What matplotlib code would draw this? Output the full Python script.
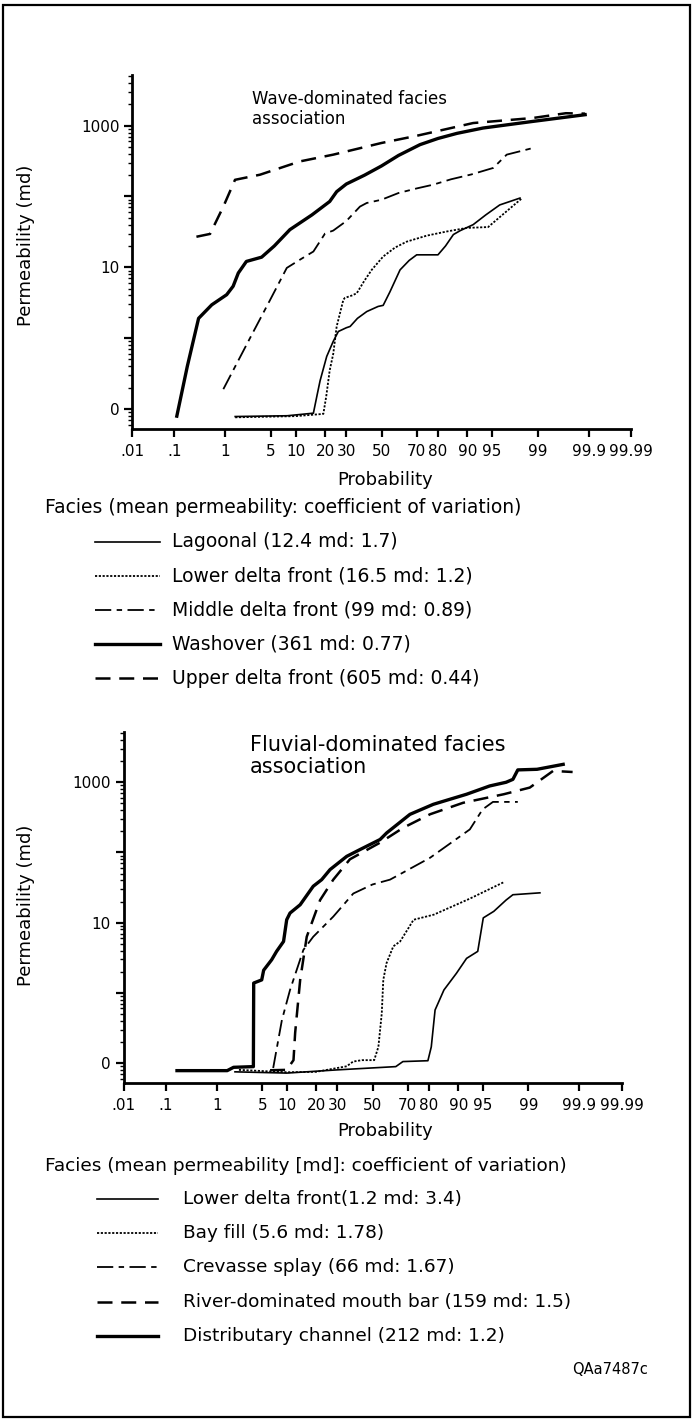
"""
Probability plots of permeability by facies: wave- and fluvial-dominated
facies associations.
"""
from statistics import NormalDist

import matplotlib
matplotlib.use("Agg")
import matplotlib.pyplot as plt
import matplotlib.ticker as ticker
from matplotlib.lines import Line2D
from matplotlib.patches import Rectangle
import numpy as np

W, H = 696, 1420

# ---------------- data (probability %, permeability md) ----------------
# Wave-dominated facies association
lagoonal_p = [1.46, 8, 15.5, 16.9, 18.0, 20.7, 23.6, 26, 30, 32, 36, 41.3, 48, 51, 55,
              60.9, 66, 70, 80, 83, 85.8, 88, 91.4, 94, 96.1, 98.05]
lagoonal_k = [0.078, 0.080, 0.087, 0.16, 0.25, 0.55, 0.9, 1.24, 1.4, 1.46, 1.9, 2.37, 2.8,
              2.9, 4.5, 9.2, 12.5, 15, 15, 20, 29, 33, 40, 55, 76, 95]

lower_wave_p = [1.46, 10, 19.3, 20.5, 22, 23.6, 25.2, 28.5, 29.3, 33, 35.6, 40, 44.2, 51,
                58, 64.6, 75, 83.4, 89.8, 94.4, 96.9, 98.2]
lower_wave_k = [0.076, 0.079, 0.085, 0.15, 0.35, 0.6, 1.46, 3.5, 3.7, 4.0, 4.3, 6.5, 9.2,
                14.2, 19, 23, 28, 32, 36, 37, 62, 95]

middle_p = [0.92, 2.5, 4.8, 7.9, 11.2, 15.5, 20, 23.6, 30, 37.4, 41.3, 50, 60, 70, 78,
            85, 91, 95.2, 96.9, 98.8]
middle_k = [0.19, 1.0, 3.4, 9.8, 12.8, 16.7, 30, 33, 45, 72, 81, 90, 112, 130, 147, 175,
            205, 253, 390, 484]

washover_p = [0.114, 0.19, 0.32, 0.57, 1.05, 1.35, 1.64, 2.2, 3.7, 5.5, 8.6, 15, 22, 25.2,
              30, 40, 50, 60, 71.7, 80, 87, 93.5, 98.8, 99.88]
washover_k = [0.079, 0.4, 1.9, 2.95, 4.1, 5.4, 8.3, 12.1, 13.9, 20, 34, 55, 85, 117, 150,
              200, 270, 380, 540, 660, 780, 927, 1150, 1430]

upper_p = [0.29, 0.53, 0.92, 1.45, 3.5, 11.2, 23.6, 50, 70, 91.4, 98.8, 99.7, 99.88]
upper_k = [27, 29.6, 72, 172, 203, 313, 390, 570, 720, 1090, 1285, 1500, 1480]

# Fluvial-dominated facies association
lower_fluv_p = [2, 10, 30, 63.6, 67.5, 79.6, 81, 82.5, 85.7, 89.5, 92, 94.2, 95.1, 96.5,
                97.7, 98.2, 99.38]
lower_fluv_k = [0.075, 0.072, 0.08, 0.089, 0.105, 0.108, 0.17, 0.57, 1.1, 1.9, 3.1, 3.9,
                11.7, 14.5, 21, 25, 26.6]

bayfill_p = [2.3, 10, 20, 35, 38.6, 43.7, 51, 53.5, 55.5, 56.4, 58.3, 62.2, 66, 70, 73,
             82, 90.4, 92.7, 97.5]
bayfill_k = [0.08, 0.074, 0.075, 0.09, 0.105, 0.11, 0.11, 0.17, 0.51, 1.53, 2.65, 4.6,
             5.4, 8, 11, 13, 19, 22, 37.7]

crevasse_p = [6.9, 8.8, 10.9, 15.1, 18.8, 27.9, 38.7, 50, 60.3, 64, 80.5, 92.7, 95, 96.4,
              98.5]
crevasse_k = [0.085, 0.41, 1.1, 4.1, 6.3, 12.2, 26, 35, 41, 46, 84, 213, 411, 525, 525]

mouthbar_p = [6.3, 10, 11.9, 12.4, 14, 16.3, 21.7, 27.9, 36.8, 54.5, 67.7, 80.5, 91.2,
              97.5, 99.06, 99.65, 99.86]
mouthbar_k = [0.079, 0.08, 0.11, 0.27, 1.53, 6.3, 21, 41, 80, 138, 225, 350, 510, 675,
              840, 1450, 1400]

distrib_p = [0.175, 1.5, 1.9, 3.76, 3.8, 4.9, 5.2, 6.6, 7.6, 9.2, 10, 10.9, 14, 18.8,
             22.4, 26.3, 35, 42.6, 54.5, 58.4, 71.2, 81.8, 87.6, 92, 96, 97.7, 98.2,
             98.5, 99.3, 99.78]
distrib_k = [0.078, 0.078, 0.087, 0.089, 1.38, 1.53, 2.1, 2.96, 3.9, 5.4, 11, 13.7, 18,
             33, 41, 57, 88, 110, 153, 190, 349, 485, 572, 675, 886, 1000, 1100, 1500,
             1530, 1800]

prob_ticks = [0.01, 0.1, 1, 5, 10, 20, 30, 50, 70, 80, 90, 95, 99, 99.9, 99.99]
prob_labels = [".01", ".1", "1", "5", "10", "20", "30", "50", "70", "80", "90", "95",
               "99", "99.9", "99.99"]
perm_labels = {0.1: "0", 10: "10", 1000: "1000"}

wave_legend = ["Lagoonal (12.4 md: 1.7)", "Lower delta front (16.5 md: 1.2)",
               "Middle delta front (99 md: 0.89)", "Washover (361 md: 0.77)",
               "Upper delta front (605 md: 0.44)"]
fluv_legend = ["Lower delta front(1.2 md: 3.4)", "Bay fill (5.6 md: 1.78)",
               "Crevasse splay (66 md: 1.67)", "River-dominated mouth bar (159 md: 1.5)",
               "Distributary channel (212 md: 1.2)"]

# ---------------- styles ----------------
THIN = dict(color="black", lw=1.2, ls="-")
DOT = dict(color="black", lw=1.3, ls=(0, (1.2, 0.9)))
DASHDOT = dict(color="black", lw=1.3, ls=(0, (9, 3, 3, 3)))
THICK = dict(color="black", lw=2.4, ls="-")
DASH = dict(color="black", lw=1.8, ls=(0, (6, 3.5)))

_nd = NormalDist()


def prob_fwd(p):
    p = np.clip(np.asarray(p, dtype=float) / 100.0, 1e-9, 1 - 1e-9)
    return np.vectorize(_nd.inv_cdf, otypes=[float])(p)


def prob_inv(z):
    return 100.0 * np.vectorize(_nd.cdf, otypes=[float])(np.asarray(z, dtype=float))


def px(x, y):
    return x / W, 1 - y / H


def setup_axes(ax):
    ax.set_xscale("function", functions=(prob_fwd, prob_inv))
    ax.set_yscale("log")
    ax.set_xlim(0.01, 99.99)
    ax.set_ylim(0.052, 5200)
    ax.xaxis.set_major_locator(ticker.FixedLocator(prob_ticks))
    ax.xaxis.set_major_formatter(ticker.FixedFormatter(prob_labels))
    ax.xaxis.set_minor_locator(ticker.NullLocator())
    ax.yaxis.set_major_locator(ticker.LogLocator(base=10, numticks=10))
    ax.yaxis.set_minor_locator(ticker.LogLocator(base=10, subs=np.arange(2, 10), numticks=20))
    ax.yaxis.set_major_formatter(ticker.FuncFormatter(
        lambda v, pos: next((s for k, s in perm_labels.items() if abs(v - k) < k * 1e-6), "")))
    ax.yaxis.set_minor_formatter(ticker.NullFormatter())
    for side in ("top", "right"):
        ax.spines[side].set_visible(False)
    for side in ("left", "bottom"):
        ax.spines[side].set_linewidth(2.0)
    ax.tick_params(axis="both", which="major", length=6, width=1.6, labelsize=11, pad=3)
    ax.tick_params(axis="x", which="major", pad=5)
    ax.tick_params(axis="y", which="minor", length=3, width=1.0)
    ax.patch.set_alpha(0)


def draw_legend(fig, header, header_y, header_size, labels, styles, row0, x_line, x_text,
                size):
    fig.text(*px(45, header_y), header, fontsize=header_size, va="center", ha="left")
    for i, (lab, st) in enumerate(zip(labels, styles)):
        y = row0 + i * 34.2
        x0, yy = px(x_line[0], y)
        x1, _ = px(x_line[1], y)
        fig.add_artist(Line2D([x0, x1], [yy, yy], transform=fig.transFigure, **st))
        fig.text(*px(x_text, y), lab, fontsize=size, va="center", ha="left")


fig = plt.figure(figsize=(W / 100, H / 100), dpi=100)
fig.add_artist(Rectangle(px(3, 1417), (690 - 3) / W, (1417 - 5) / H,
                         transform=fig.transFigure, fill=False, lw=1.6, ec="black"))

# ---------------- wave-dominated ----------------
ax1 = fig.add_axes([132 / W, 1 - 429 / H, (631 - 132) / W, (429 - 75) / H])
setup_axes(ax1)
ax1.plot(lagoonal_p, lagoonal_k, **THIN)
ax1.plot(lower_wave_p, lower_wave_k, **DOT)
ax1.plot(middle_p, middle_k, **DASHDOT)
ax1.plot(washover_p, washover_k, **THICK)
ax1.plot(upper_p, upper_k, **DASH)
ax1.text(0.24, 0.905, "Wave-dominated facies\nassociation", transform=ax1.transAxes,
         fontsize=12, ha="left", va="center", linespacing=1.15)
ax1.set_xlabel("Probability", fontsize=13)
ax1.xaxis.set_label_coords(0.507, -0.12)
ax1.set_ylabel("Permeability (md)", fontsize=13)
ax1.yaxis.set_label_coords(-0.194, 0.52)

draw_legend(fig, "Facies (mean permeability: coefficient of variation)", 507, 13.5,
            wave_legend, [THIN, DOT, DASHDOT, THICK, DASH], 541.5, (95, 160), 172, 13.5)

# ---------------- fluvial-dominated ----------------
ax2 = fig.add_axes([123.5 / W, 1 - 1083 / H, (621.5 - 123.5) / W, (1083 - 732) / H])
setup_axes(ax2)
ax2.plot(lower_fluv_p, lower_fluv_k, **THIN)
ax2.plot(bayfill_p, bayfill_k, **DOT)
ax2.plot(crevasse_p, crevasse_k, **DASHDOT)
ax2.plot(mouthbar_p, mouthbar_k, **DASH)
ax2.plot(distrib_p, distrib_k, **THICK)
ax2.text(0.254, 0.932, "Fluvial-dominated facies\nassociation", transform=ax2.transAxes,
         fontsize=15, ha="left", va="center", linespacing=1.1)
ax2.set_xlabel("Probability", fontsize=13)
ax2.xaxis.set_label_coords(0.525, -0.11)
ax2.set_ylabel("Permeability (md)", fontsize=13)
ax2.yaxis.set_label_coords(-0.178, 0.507)

draw_legend(fig, "Facies (mean permeability [md]: coefficient of variation)", 1166, 13.3,
            fluv_legend, [THIN, DOT, DASHDOT, DASH, THICK], 1199, (97, 158), 183, 13.3)

fig.text(*px(648, 1369), "QAa7487c", fontsize=10.5, ha="right", va="center")

fig.savefig("out.png", dpi=100)
plt.close(fig)
